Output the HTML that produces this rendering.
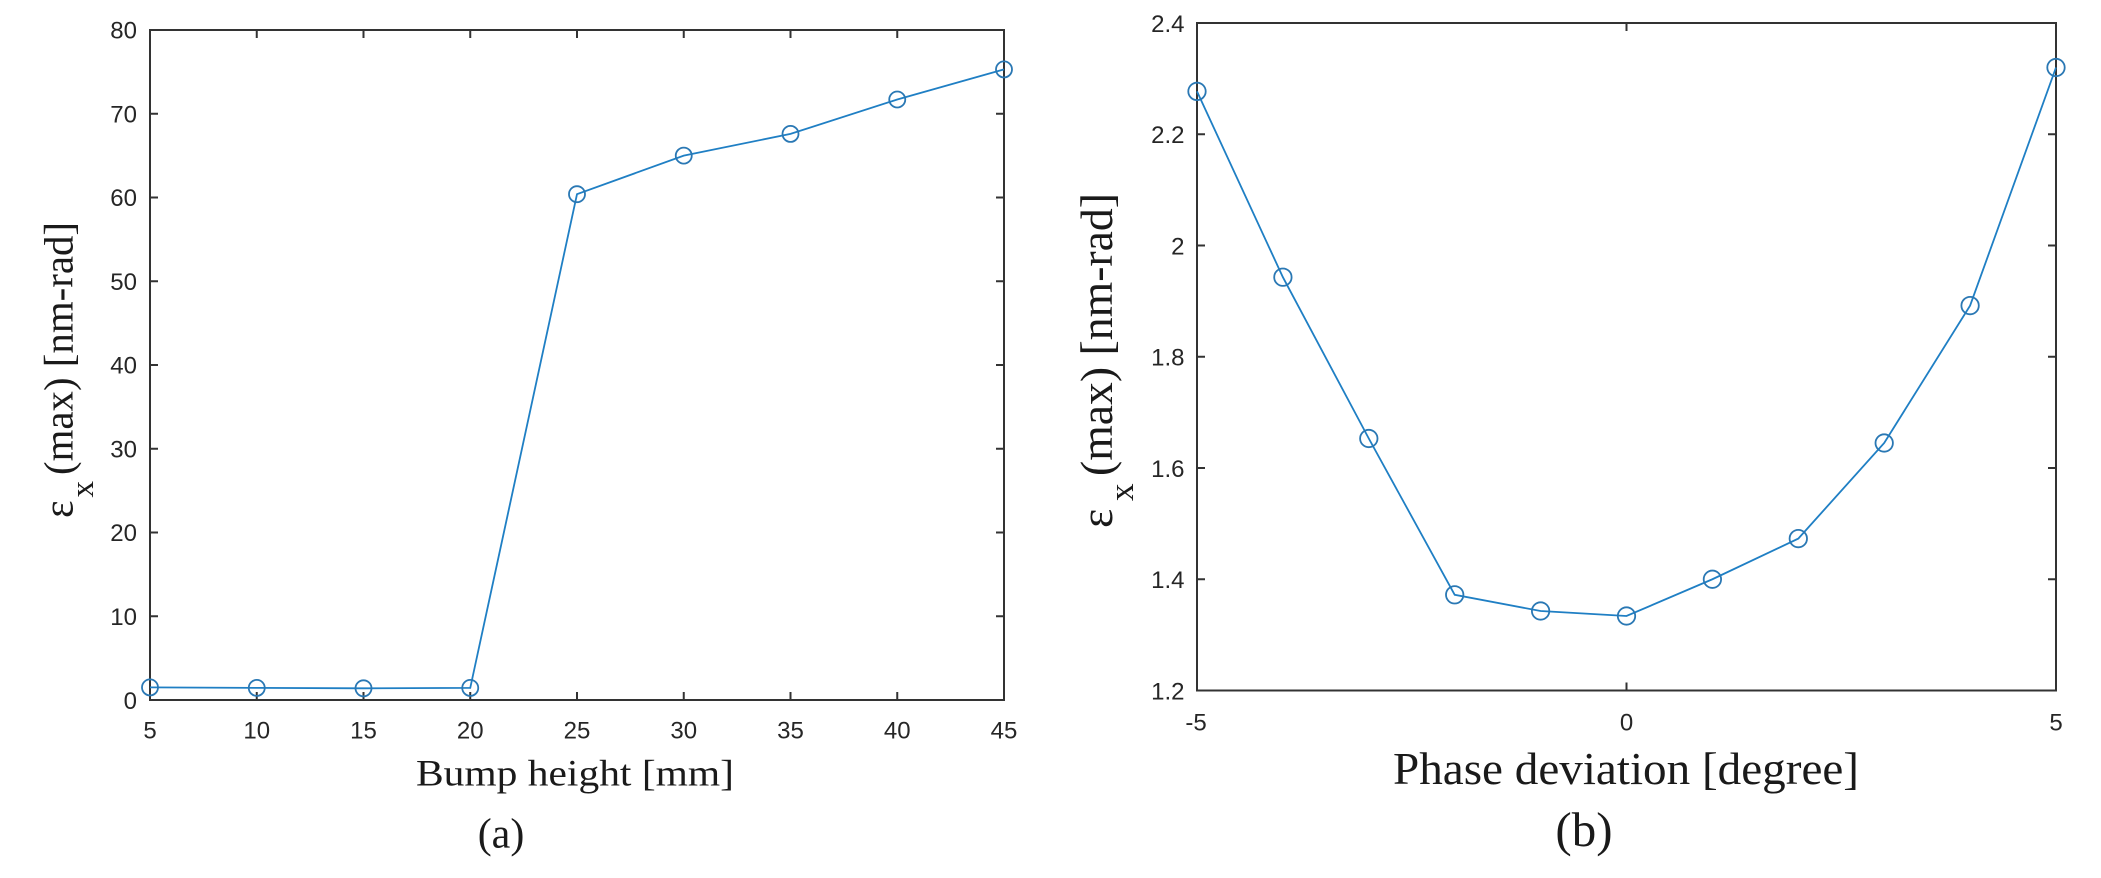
<!DOCTYPE html>
<html>
<head>
<meta charset="utf-8">
<style>
  html, body { margin: 0; padding: 0; background: #ffffff; }
  svg { display: block; }
  .tick { font-family: "Liberation Sans", Arial, sans-serif; font-size: 24px; fill: #262626; }
  .lab { font-family: "Liberation Serif", "Times New Roman", serif; fill: #1a1a1a; }
</style>
</head>
<body>
<svg width="2101" height="878" viewBox="0 0 2101 878" xmlns="http://www.w3.org/2000/svg">
  <rect x="0" y="0" width="2101" height="878" fill="#ffffff"/>

  <!-- ================= LEFT PANEL (a) ================= -->
  <g stroke="#333333" stroke-width="2" fill="none">
    <rect x="150" y="30" width="854" height="670"/>
    <!-- x ticks bottom & top -->
    <path d="M150,700v-8 M256.75,700v-8 M363.5,700v-8 M470.25,700v-8 M577,700v-8 M683.75,700v-8 M790.5,700v-8 M897.25,700v-8 M1004,700v-8
             M150,30v8 M256.75,30v8 M363.5,30v8 M470.25,30v8 M577,30v8 M683.75,30v8 M790.5,30v8 M897.25,30v8 M1004,30v8"/>
    <!-- y ticks left & right -->
    <path d="M150,700h8 M150,616.25h8 M150,532.5h8 M150,448.75h8 M150,365h8 M150,281.25h8 M150,197.5h8 M150,113.75h8 M150,30h8
             M1004,700h-8 M1004,616.25h-8 M1004,532.5h-8 M1004,448.75h-8 M1004,365h-8 M1004,281.25h-8 M1004,197.5h-8 M1004,113.75h-8 M1004,30h-8"/>
  </g>
  <!-- y tick labels -->
  <g class="tick" text-anchor="end">
    <text x="137" y="709">0</text>
    <text x="137" y="625">10</text>
    <text x="137" y="541">20</text>
    <text x="137" y="457.5">30</text>
    <text x="137" y="373.7">40</text>
    <text x="137" y="290">50</text>
    <text x="137" y="206.2">60</text>
    <text x="137" y="122.5">70</text>
    <text x="137" y="38.7">80</text>
  </g>
  <!-- x tick labels -->
  <g class="tick" text-anchor="middle">
    <text x="150" y="738.5">5</text>
    <text x="256.75" y="738.5">10</text>
    <text x="363.5" y="738.5">15</text>
    <text x="470.25" y="738.5">20</text>
    <text x="577" y="738.5">25</text>
    <text x="683.75" y="738.5">30</text>
    <text x="790.5" y="738.5">35</text>
    <text x="897.25" y="738.5">40</text>
    <text x="1004" y="738.5">45</text>
  </g>
  <!-- data -->
  <polyline fill="none" stroke="#1f7fc4" stroke-width="1.8"
    points="150,687.4 256.75,687.9 363.5,688.3 470.25,687.9 577,194.2 683.75,155.6 790.5,133.9 897.25,99.5 1004,69.4"/>
  <g fill="none" stroke="#2a78b4" stroke-width="1.8">
    <circle cx="150" cy="687.4" r="8"/>
    <circle cx="256.75" cy="687.9" r="8"/>
    <circle cx="363.5" cy="688.3" r="8"/>
    <circle cx="470.25" cy="687.9" r="8"/>
    <circle cx="577" cy="194.2" r="8"/>
    <circle cx="683.75" cy="155.6" r="8"/>
    <circle cx="790.5" cy="133.9" r="8"/>
    <circle cx="897.25" cy="99.5" r="8"/>
    <circle cx="1004" cy="69.4" r="8"/>
  </g>
  <!-- y label (rotated) -->
  <text class="lab" font-size="42" transform="translate(72.3,518) rotate(-90)">ε</text>
  <text class="lab" font-size="33" transform="translate(93,497.5) rotate(-90)">x</text>
  <text class="lab" font-size="41.5" transform="translate(72.3,475) rotate(-90)" textLength="253" lengthAdjust="spacingAndGlyphs">(max) [nm-rad]</text>
  <!-- x label -->
  <text class="lab" font-size="37" x="416" y="785.7" textLength="318" lengthAdjust="spacingAndGlyphs">Bump height [mm]</text>
  <text class="lab" font-size="42" x="501" y="847.6" text-anchor="middle">(a)</text>

  <!-- ================= RIGHT PANEL (b) ================= -->
  <g stroke="#333333" stroke-width="2" fill="none">
    <rect x="1197" y="23" width="859" height="667.5"/>
    <path d="M1197,690.5v-8 M1626.5,690.5v-8 M2056,690.5v-8
             M1197,23v8 M1626.5,23v8 M2056,23v8"/>
    <path d="M1197,690.5h8 M1197,579.25h8 M1197,468h8 M1197,356.75h8 M1197,245.5h8 M1197,134.25h8 M1197,23h8
             M2056,690.5h-8 M2056,579.25h-8 M2056,468h-8 M2056,356.75h-8 M2056,245.5h-8 M2056,134.25h-8 M2056,23h-8"/>
  </g>
  <g class="tick" text-anchor="end">
    <text x="1184.5" y="699.5">1.2</text>
    <text x="1184.5" y="588">1.4</text>
    <text x="1184.5" y="476.8">1.6</text>
    <text x="1184.5" y="365.5">1.8</text>
    <text x="1184.5" y="254.3">2</text>
    <text x="1184.5" y="143">2.2</text>
    <text x="1184.5" y="32">2.4</text>
  </g>
  <g class="tick" text-anchor="middle">
    <text x="1196" y="730.3">-5</text>
    <text x="1626.5" y="730.3">0</text>
    <text x="2056" y="730.3">5</text>
  </g>
  <polyline fill="none" stroke="#1f7fc4" stroke-width="1.8"
    points="1197,91.4 1282.9,277.2 1368.8,438.5 1454.7,594.8 1540.6,611 1626.5,616 1712.4,579.25 1798.3,538.6 1884.2,443 1970.1,305.6 2056,67.5"/>
  <g fill="none" stroke="#2a78b4" stroke-width="1.8">
    <circle cx="1197" cy="91.4" r="8.7"/>
    <circle cx="1282.9" cy="277.2" r="8.7"/>
    <circle cx="1368.8" cy="438.5" r="8.7"/>
    <circle cx="1454.7" cy="594.8" r="8.7"/>
    <circle cx="1540.6" cy="611" r="8.7"/>
    <circle cx="1626.5" cy="616" r="8.7"/>
    <circle cx="1712.4" cy="579.25" r="8.7"/>
    <circle cx="1798.3" cy="538.6" r="8.7"/>
    <circle cx="1884.2" cy="443" r="8.7"/>
    <circle cx="1970.1" cy="305.6" r="8.7"/>
    <circle cx="2056" cy="67.5" r="8.7"/>
  </g>
  <!-- y label (rotated) -->
  <text class="lab" font-size="46" transform="translate(1112,528) rotate(-90)">ε</text>
  <text class="lab" font-size="35" transform="translate(1133,501) rotate(-90)">x</text>
  <text class="lab" font-size="46" transform="translate(1112,476) rotate(-90)" textLength="283" lengthAdjust="spacingAndGlyphs">(max) [nm-rad]</text>
  <!-- x label -->
  <text class="lab" font-size="46" x="1393" y="784" textLength="466" lengthAdjust="spacingAndGlyphs">Phase deviation [degree]</text>
  <text class="lab" font-size="49" x="1584" y="846" text-anchor="middle">(b)</text>
</svg>
</body>
</html>
